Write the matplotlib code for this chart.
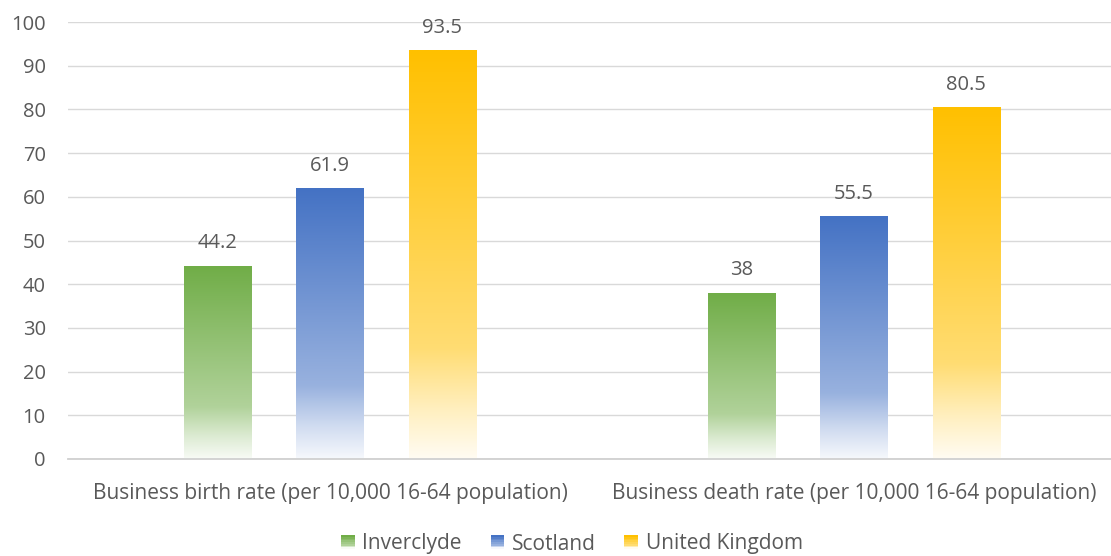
import numpy as np
import matplotlib
matplotlib.use("Agg")
import matplotlib.pyplot as plt
from matplotlib.colors import to_rgb
from matplotlib.patches import Rectangle
from matplotlib.legend_handler import HandlerBase

plt.rcParams['font.family'] = ['Open Sans', 'DejaVu Sans']

# data
categories = ['Business birth rate (per 10,000 16-64 population)',
              'Business death rate (per 10,000 16-64 population)']
series = ['Inverclyde', 'Scotland', 'United Kingdom']
inverclyde = [44.2, 38]
scotland = [61.9, 55.5]
uk = [93.5, 80.5]
labels = [['44.2', '38'], ['61.9', '55.5'], ['93.5', '80.5']]
colors = ['#70AD47', '#4472C4', '#FFC000']

TEXT = '#595959'

# how much white is mixed in, as a function of height fraction of the bar
stop_f = [0.0, 0.12, 0.27, 1.0]
stop_w = [0.95, 0.75, 0.45, 0.0]


def gradient_image(color, n=200):
    f = np.linspace(0, 1, n)
    w = np.interp(f, stop_f, stop_w)
    c = np.array(to_rgb(color))
    img = (1 - w)[:, None] * c[None, :] + w[:, None] * np.ones(3)[None, :]
    return img[:, None, :]


fig = plt.figure(figsize=(11.11, 5.56), dpi=100)
ax = fig.add_axes([68 / 1111, 97 / 556, 1048 / 1111, 437 / 556])

x = np.arange(len(categories))
width = 0.128
offsets = [-0.214, 0, 0.214]
values = [inverclyde, scotland, uk]

for i, (vals, col) in enumerate(zip(values, colors)):
    bars = ax.bar(x + offsets[i], vals, width, color='none', edgecolor='none', zorder=3)
    img = gradient_image(col)
    for b, v, lab in zip(bars, vals, labels[i]):
        x0 = b.get_x()
        im = ax.imshow(img, extent=[x0, x0 + width, 0, v], origin='lower',
                       aspect='auto', zorder=3, interpolation='bilinear')
        im.set_clip_path(b)
        ax.annotate(lab, (x0 + width / 2, v), xytext=(0, 9), textcoords='offset points',
                    ha='center', va='bottom', fontsize=14.5, color=TEXT)

ax.set_xlim(-0.5, 1.5)
ax.set_ylim(0, 100)
ax.set_yticks(range(0, 101, 10))
ax.set_xticks(x)
ax.set_xticklabels(categories)
ax.tick_params(axis='both', length=0, colors=TEXT, labelsize=14.5)
ax.tick_params(axis='x', pad=17, labelsize=15)
ax.tick_params(axis='y', pad=16)
ax.grid(axis='y', color='#D9D9D9', lw=1.0, zorder=0)
ax.set_axisbelow(True)
for s in ['top', 'right', 'left']:
    ax.spines[s].set_visible(False)
ax.spines['bottom'].set_color('#D0D0D0')
ax.spines['bottom'].set_linewidth(1.3)
ax.spines['bottom'].set_zorder(4)


class GradientHandler(HandlerBase):
    def __init__(self, color):
        super().__init__()
        self.color = color

    def create_artists(self, legend, orig_handle, xdescent, ydescent, width,
                       height, fontsize, trans):
        img = gradient_image(self.color, n=8)[:, 0, :]
        side = height
        x0 = xdescent * -1 + (width - side)
        y0 = -ydescent
        arts = []
        n = len(img)
        for k in range(n):
            r = Rectangle((x0, y0 + side * k / n), side, side / n + 0.2,
                          facecolor=img[k], edgecolor='none', transform=trans)
            arts.append(r)
        return arts


handles = [Rectangle((0, 0), 1, 1) for _ in series]
fig.legend(handles, series, loc='center', bbox_to_anchor=(572 / 1111, 1 - 544 / 556),
           ncol=3, frameon=False, fontsize=15, labelcolor=TEXT,
           handlelength=0.65, handleheight=0.65, handletextpad=0.35, columnspacing=1.4,
           handler_map={h: GradientHandler(c) for h, c in zip(handles, colors)})

fig.savefig('out.png', dpi=100)
